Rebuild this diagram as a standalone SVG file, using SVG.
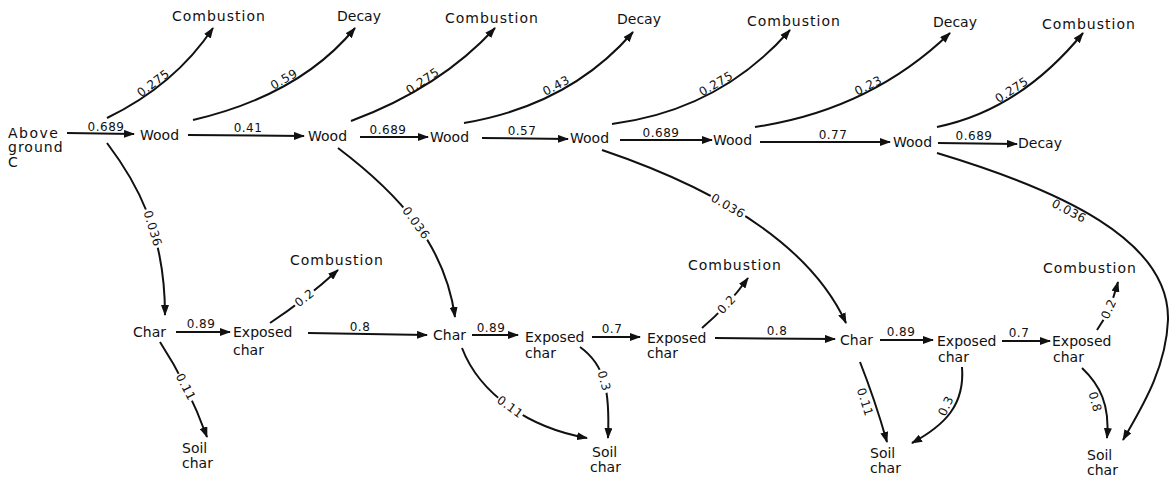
<svg xmlns="http://www.w3.org/2000/svg" width="1174" height="483" viewBox="0 0 1174 483">
<style>
.n{font-family:"DejaVu Sans","Liberation Sans",sans-serif;font-size:14px;fill:#111}
.cb{letter-spacing:1px}
.l{font-family:"DejaVu Sans","Liberation Sans",sans-serif;font-size:12px;fill:#111;letter-spacing:0.5px;text-anchor:middle}
.e{fill:none;stroke:#111;stroke-width:2;marker-end:url(#ah)}
.g{fill:#000}
</style>
<defs>
<marker id="ah" markerUnits="userSpaceOnUse" markerWidth="11" markerHeight="8" refX="10" refY="4" orient="auto">
<path d="M0,0 L11,4 L0,8 z" fill="#111"/>
</marker>
<mask id="gaps" maskUnits="userSpaceOnUse" x="0" y="0" width="1174" height="483">
<rect width="1174" height="483" fill="#fff"/>
<rect class="g" transform="translate(152.6,228.4) rotate(73)" x="-20" y="-6" width="40" height="12"/>
<rect class="g" transform="translate(416,223) rotate(53.5)" x="-20" y="-6" width="40" height="12"/>
<rect class="g" transform="translate(728,206) rotate(30)" x="-20" y="-6" width="40" height="12"/>
<rect class="g" transform="translate(304.5,298) rotate(-38)" x="-12" y="-6" width="24" height="12"/>
<rect class="g" transform="translate(726.5,304.5) rotate(-47)" x="-12" y="-6" width="24" height="12"/>
<rect class="g" transform="translate(1108.7,309) rotate(-66)" x="-12" y="-6" width="24" height="12"/>
<rect class="g" transform="translate(185.7,387) rotate(63)" x="-15" y="-6" width="30" height="12"/>
<rect class="g" transform="translate(510,407) rotate(36)" x="-15" y="-6" width="30" height="12"/>
<rect class="g" transform="translate(604,381) rotate(75)" x="-12" y="-6" width="24" height="12"/>
</mask>
</defs>
<rect width="1174" height="483" fill="#fff"/>

<g id="connectors">
<g mask="url(#gaps)">
<!-- horizontal wood chain -->
<path class="e" d="M67,133 L134,134"/>
<path class="e" d="M188,135 L304,136"/>
<path class="e" d="M360,137 L428,137"/>
<path class="e" d="M482,138 L568,139"/>
<path class="e" d="M620,140 L712,140"/>
<path class="e" d="M760,142 L890,142"/>
<path class="e" d="M938,143 L1017,144"/>
<!-- upward to combustion / decay -->
<path class="e" d="M107,118 Q175,85 213,28"/>
<path class="e" d="M193,120 Q300,95 355,28"/>
<path class="e" d="M351,121 Q440,88 495,28"/>
<path class="e" d="M464,123 Q570,105 633,32"/>
<path class="e" d="M612,124 Q720,110 790,30"/>
<path class="e" d="M755,127 Q870,110 950,33"/>
<path class="e" d="M937,127 Q1020,110 1083,33"/>
<!-- 0.036 downward -->
<path class="e" d="M107,143 C135,180 165,230 165,315"/>
<path class="e" d="M338,148 C400,195 445,245 455,317"/>
<path class="e" d="M602,150 C720,190 810,245 846,323"/>
<path class="e" d="M937,153 C1060,190 1170,240 1168,320 C1166,370 1140,410 1123,440"/>
<!-- char row -->
<path class="e" d="M176,332 L230,332"/>
<path class="e" d="M308,333 L427,335"/>
<path class="e" d="M472,335 L518,335"/>
<path class="e" d="M592,337 L640,337"/>
<path class="e" d="M715,338 L835,339"/>
<path class="e" d="M880,340 L933,340"/>
<path class="e" d="M1002,341 L1050,341"/>
<!-- 0.2 to combustion -->
<path class="e" d="M270,323 Q305,300 338,270"/>
<path class="e" d="M702,328 Q728,306 748,278"/>
<path class="e" d="M1097,330 Q1110,312 1118,282"/>
<!-- to soil char -->
<path class="e" d="M160,342 Q188,385 207,437"/>
<path class="e" d="M462,348 C480,395 530,428 587,438"/>
<path class="e" d="M580,347 C605,365 610,390 608,438"/>
<path class="e" d="M860,362 Q875,400 887,442"/>
<path class="e" d="M962,367 C965,405 945,425 912,443"/>
<path class="e" d="M1082,368 C1100,385 1110,405 1107,438"/>
</g>

<!-- labels on horizontal arrows -->
<text class="l" x="106" y="131">0.689</text>
<text class="l" x="248" y="132">0.41</text>
<text class="l" x="388" y="134">0.689</text>
<text class="l" x="522" y="135">0.57</text>
<text class="l" x="661" y="137">0.689</text>
<text class="l" x="833" y="139">0.77</text>
<text class="l" x="974" y="140">0.689</text>
<text class="l" x="201" y="328">0.89</text>
<text class="l" x="360" y="331">0.8</text>
<text class="l" x="491" y="332">0.89</text>
<text class="l" x="612" y="333">0.7</text>
<text class="l" x="777" y="335">0.8</text>
<text class="l" x="901" y="336">0.89</text>
<text class="l" x="1019" y="337">0.7</text>
<!-- labels on upward curves -->
<text class="l" transform="translate(157,88) rotate(-37)" y="-2">0.275</text>
<text class="l" transform="translate(287,84.5) rotate(-30)" y="-2">0.59</text>
<text class="l" transform="translate(426,86) rotate(-34)" y="-2">0.275</text>
<text class="l" transform="translate(559,91) rotate(-28)" y="-2">0.43</text>
<text class="l" transform="translate(719,89) rotate(-30)" y="-2">0.275</text>
<text class="l" transform="translate(871,91) rotate(-27)" y="-2">0.23</text>
<text class="l" transform="translate(1015,95) rotate(-33)" y="-2">0.275</text>
<!-- labels set into the line -->
<text class="l" transform="translate(152.6,228.4) rotate(73)" y="4">0.036</text>
<text class="l" transform="translate(416,223) rotate(53.5)" y="4">0.036</text>
<text class="l" transform="translate(728,206) rotate(30)" y="4">0.036</text>
<text class="l" transform="translate(304.5,298) rotate(-38)" y="4">0.2</text>
<text class="l" transform="translate(726.5,304.5) rotate(-47)" y="4">0.2</text>
<text class="l" transform="translate(1108.7,309) rotate(-66)" y="4">0.2</text>
<text class="l" transform="translate(185.7,387) rotate(63)" y="4">0.11</text>
<text class="l" transform="translate(510,407) rotate(36)" y="4">0.11</text>
<text class="l" transform="translate(604,381) rotate(75)" y="4">0.3</text>
<!-- labels beside the line -->
<text class="l" transform="translate(1069,211) rotate(28)" y="4">0.036</text>
<text class="l" transform="translate(865,402) rotate(72)" y="4">0.11</text>
<text class="l" transform="translate(946,406) rotate(-65)" y="4">0.3</text>
<text class="l" transform="translate(1095,402) rotate(75)" y="4">0.8</text>
</g>

<g id="above-ground-c"><text class="n" x="8" y="138" letter-spacing="1.5">Above</text><text class="n" x="8" y="152" letter-spacing="1">ground</text><text class="n" x="8" y="167">C</text></g>
<g id="wood-1"><text class="n" x="140" y="140">Wood</text></g>
<g id="wood-2"><text class="n" x="308" y="141">Wood</text></g>
<g id="wood-3"><text class="n" x="430" y="142">Wood</text></g>
<g id="wood-4"><text class="n" x="570" y="143">Wood</text></g>
<g id="wood-5"><text class="n" x="713" y="145">Wood</text></g>
<g id="wood-6"><text class="n" x="893" y="147">Wood</text></g>
<g id="decay-final"><text class="n" x="1018" y="148">Decay</text></g>
<g id="combustion-1"><text class="n cb" x="172" y="21">Combustion</text></g>
<g id="decay-1"><text class="n" x="337" y="21">Decay</text></g>
<g id="combustion-2"><text class="n cb" x="445" y="23">Combustion</text></g>
<g id="decay-2"><text class="n" x="617" y="24">Decay</text></g>
<g id="combustion-3"><text class="n cb" x="747" y="26">Combustion</text></g>
<g id="decay-3"><text class="n" x="933" y="27">Decay</text></g>
<g id="combustion-4"><text class="n cb" x="1042" y="29">Combustion</text></g>
<g id="char-1"><text class="n" x="133" y="337">Char</text></g>
<g id="exposed-1"><text class="n" x="233" y="337">Exposed</text><text class="n" x="233" y="355">char</text></g>
<g id="combustion-5"><text class="n cb" x="290" y="265">Combustion</text></g>
<g id="char-2"><text class="n" x="433" y="340">Char</text></g>
<g id="exposed-2"><text class="n" x="525" y="342">Exposed</text><text class="n" x="525" y="358">char</text></g>
<g id="exposed-3"><text class="n" x="647" y="343">Exposed</text><text class="n" x="647" y="358">char</text></g>
<g id="combustion-6"><text class="n cb" x="688" y="270">Combustion</text></g>
<g id="char-3"><text class="n" x="840" y="345">Char</text></g>
<g id="exposed-4"><text class="n" x="937" y="346">Exposed</text><text class="n" x="938" y="362">char</text></g>
<g id="exposed-5"><text class="n" x="1052" y="346">Exposed</text><text class="n" x="1053" y="362">char</text></g>
<g id="combustion-7"><text class="n cb" x="1043" y="273">Combustion</text></g>
<g id="soil-1"><text class="n" x="182" y="453">Soil</text><text class="n" x="182" y="468">char</text></g>
<g id="soil-2"><text class="n" x="592" y="457">Soil</text><text class="n" x="590" y="472">char</text></g>
<g id="soil-3"><text class="n" x="870" y="458">Soil</text><text class="n" x="870" y="473">char</text></g>
<g id="soil-4"><text class="n" x="1087" y="460">Soil</text><text class="n" x="1087" y="475">char</text></g>
</svg>
